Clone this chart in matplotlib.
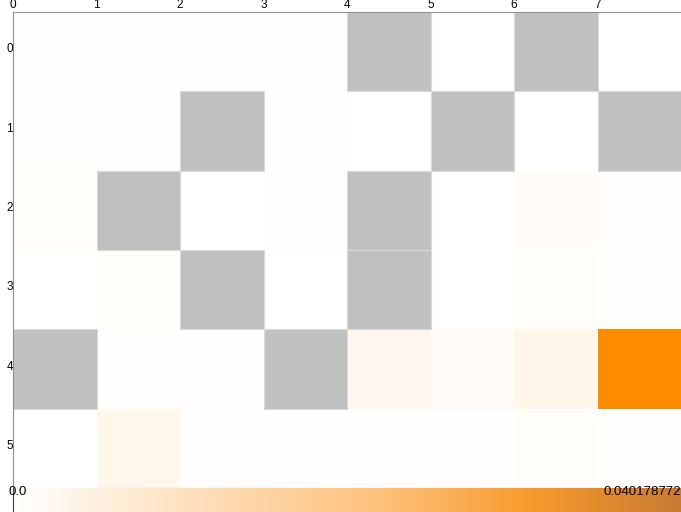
import numpy as np
import matplotlib
matplotlib.use("Agg")
import matplotlib.pyplot as plt
from matplotlib.colors import LinearSegmentedColormap
from matplotlib.patches import Rectangle

plt.rcParams['font.family'] = ['Liberation Sans', 'DejaVu Sans']

# data (NaN = missing, drawn grey)
rows = ['0', '1', '2', '3', '4', '5']
cols = ['0', '1', '2', '3', '4', '5', '6', '7']
nan = np.nan
row0 = [0.0005, 0.0005, 0.0005, 0.0005, nan, 0.0001, nan, 0.0]
row1 = [0.0004, 0.0005, nan, 0.0004, 0.0001, nan, 0.0003, nan]
row2 = [0.0008, nan, 0.0, 0.0006, nan, 0.0003, 0.0012, 0.0006]
row3 = [0.0003, 0.0009, nan, 0.0, nan, 0.0002, 0.0008, 0.0006]
row4 = [nan, 0.0006, 0.0005, nan, 0.0027, 0.0016, 0.0036, 0.040178772]
row5 = [0.0001, 0.003, 0.0005, 0.0005, 0.0005, 0.0006, 0.0008, 0.0006]
vmin = 0.0
vmax = 0.040178772

values = np.array([row0, row1, row2, row3, row4, row5])
masked = np.ma.masked_invalid(values)

cell_cmap = LinearSegmentedColormap.from_list('cells', ['#ffffff', '#ff8c00'])
cell_cmap.set_bad('#c0c0c0')
bar_cmap = LinearSegmentedColormap.from_list(
    'bar', [(0.0, '#ffffff'), (0.3, '#fedcb4'), (0.55, '#fec27b'),
            (0.78, '#f89a2c'), (1.0, '#c97b33')])

fig = plt.figure(figsize=(6.81, 5.12), dpi=100)
ax = fig.add_axes([13 / 681, 24 / 512, 668 / 681, 476 / 512])
ax.pcolormesh(masked, cmap=cell_cmap, vmin=vmin, vmax=vmax)

# thin light outline round the missing cells
for i in range(values.shape[0]):
    for j in range(values.shape[1]):
        if np.isnan(values[i, j]):
            ax.add_patch(Rectangle((j, i), 1, 1, fill=False,
                                   edgecolor='#dadada', linewidth=0.8))

ax.set_xlim(0, len(cols))
ax.set_ylim(len(rows), 0)
ax.xaxis.tick_top()
ax.set_xticks(np.arange(len(cols)))
ax.set_xticklabels(cols)
ax.set_yticks(np.arange(len(rows)) + 0.45)
ax.set_yticklabels(rows)
ax.tick_params(axis='x', length=0, labelsize=8.5, pad=1)
ax.tick_params(axis='y', length=0, labelsize=8.5, pad=0)
ax.spines['right'].set_visible(False)
ax.spines['top'].set_color('#909090')
ax.spines['left'].set_color('#909090')
ax.spines['bottom'].set_color('#c0c0c0')

# horizontal colour bar along the bottom
cax = fig.add_axes([13 / 681, 0, 668 / 681, 24 / 512])
grad = np.linspace(0, 1, 256).reshape(1, -1)
cax.imshow(grad, aspect='auto', cmap=bar_cmap, extent=[0, 1, 0, 1])
cax.set_xticks([])
cax.set_yticks([])
for s in ['top', 'right', 'bottom']:
    cax.spines[s].set_visible(False)
cax.spines['left'].set_color('#404040')
cax.text(-0.006, 1.08, f'{vmin:.1f}', fontsize=9.5, ha='left', va='top',
         transform=cax.transAxes, clip_on=False)
cax.text(1.0, 1.08, f'{vmax}', fontsize=9.5, ha='right', va='top',
         transform=cax.transAxes, clip_on=False)

fig.savefig('out.png', dpi=100)
